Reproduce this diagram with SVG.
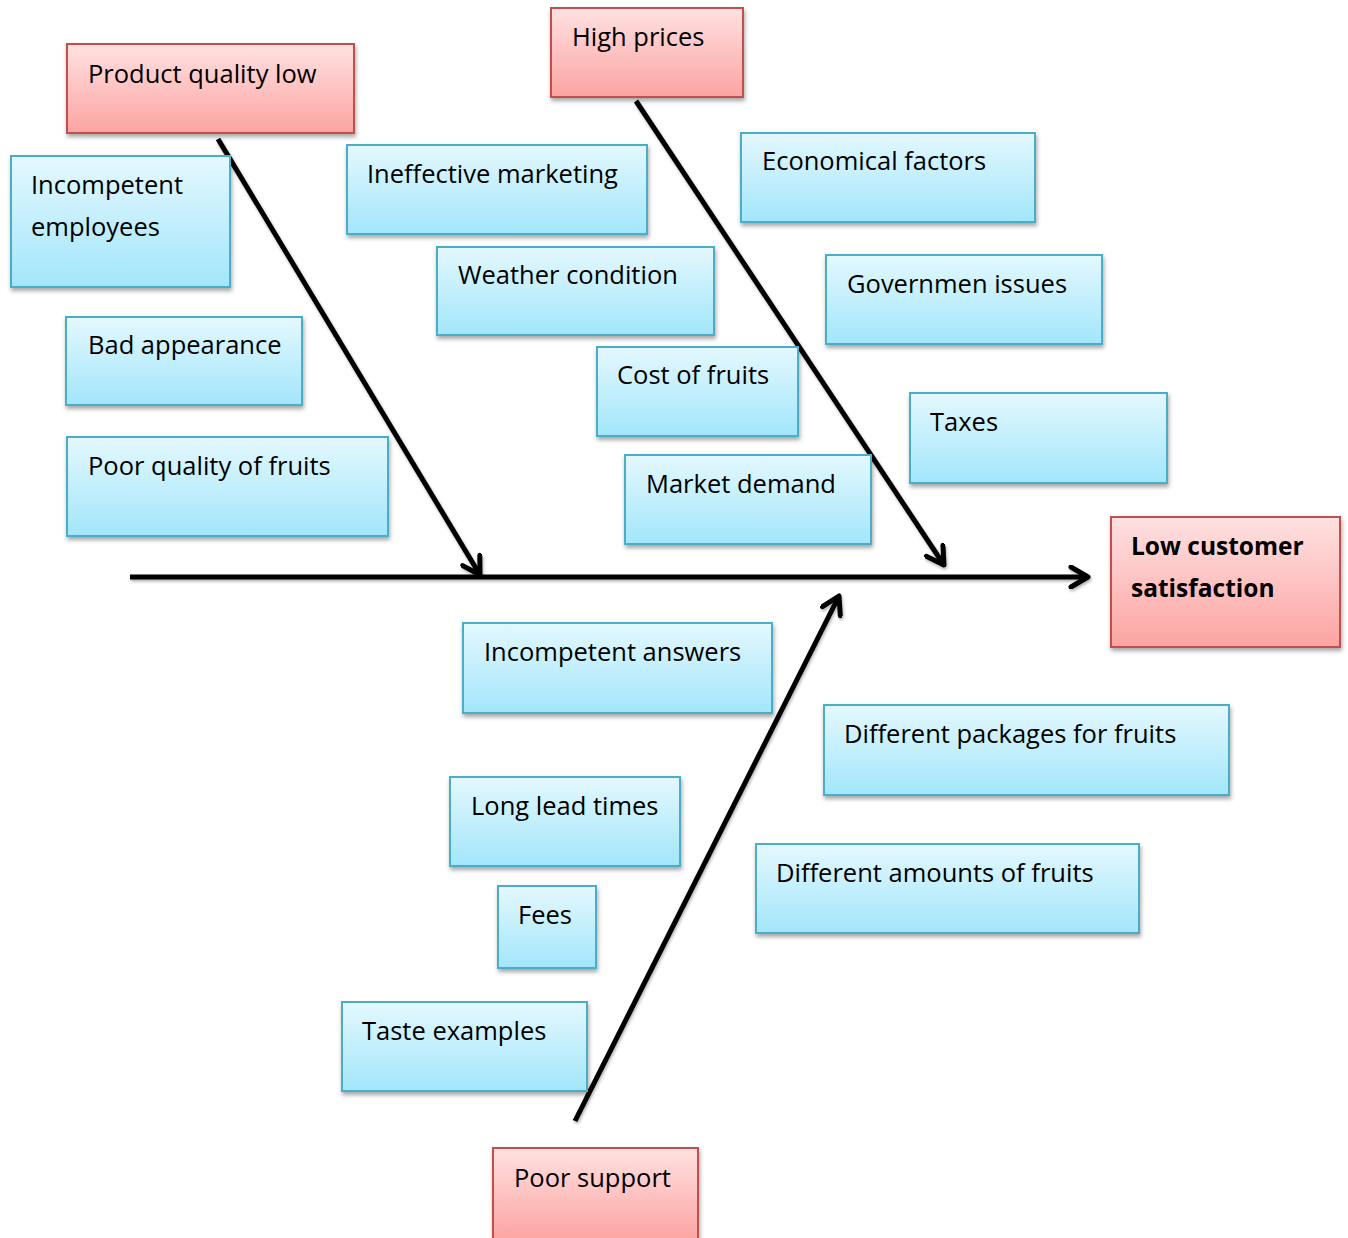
<svg xmlns="http://www.w3.org/2000/svg" width="1348" height="1238" viewBox="0 0 1348 1238">
<style>
.b{fill:url(#gb);stroke:#4cadc8;stroke-width:2;filter:url(#sh)}
.r{fill:url(#gr);stroke:#c0504d;stroke-width:2;filter:url(#sh)}
text{font-family:"Open Sans","Noto Sans","Liberation Sans",sans-serif;font-size:25.5px;fill:#000}
.bold{font-weight:bold;font-size:24.5px}
.c{stroke:#000;stroke-width:5;fill:none}
</style>
<defs>
<linearGradient id="gb" x1="0" y1="0" x2="0" y2="1">
<stop offset="0" stop-color="#e4f8fe"/><stop offset="1" stop-color="#a2e6fb"/>
</linearGradient>
<linearGradient id="gr" x1="0" y1="0" x2="0" y2="1">
<stop offset="0" stop-color="#ffe1e1"/><stop offset="1" stop-color="#fca4a2"/>
</linearGradient>
<filter id="sh" x="-10%" y="-10%" width="130%" height="140%">
<feDropShadow dx="1" dy="3" stdDeviation="2" flood-color="#000" flood-opacity="0.35"/>
</filter>
<filter id="ls" filterUnits="userSpaceOnUse" x="0" y="0" width="1348" height="1238">
<feDropShadow dx="1" dy="2" stdDeviation="1.5" flood-color="#000" flood-opacity="0.3"/>
</filter>
<marker id="ah" viewBox="0 0 24 24" refX="20" refY="12" markerWidth="24" markerHeight="24" markerUnits="userSpaceOnUse" orient="auto">
<path d="M3,2 L20,12 L3,22" fill="none" stroke="#000" stroke-width="5" stroke-linecap="round" stroke-linejoin="round"/>
</marker>
</defs>
<rect width="1348" height="1238" fill="#fff"/>
<g id="connectors" filter="url(#ls)">
<line class="c" x1="130" y1="577" x2="1088" y2="577" marker-end="url(#ah)"/>
<line class="c" x1="218" y1="139" x2="480" y2="575" marker-end="url(#ah)"/>
<line class="c" x1="636" y1="101" x2="944" y2="565" marker-end="url(#ah)"/>
<line class="c" x1="575" y1="1121" x2="839" y2="596" marker-end="url(#ah)"/>
</g>
<g id="product-quality-low"><rect class="r" x="67" y="44" width="287" height="89"/><text x="88" y="83">Product quality low</text></g>
<g id="high-prices"><rect class="r" x="551" y="8" width="192" height="89"/><text x="572" y="46">High prices</text></g>
<g id="low-customer-satisfaction"><rect class="r" x="1111" y="517" width="229" height="130"/><text class="bold" x="1131" y="555">Low customer</text><text class="bold" x="1131" y="597">satisfaction</text></g>
<g id="poor-support"><rect class="r" x="493" y="1148" width="205" height="92"/><text x="514" y="1187">Poor support</text></g>
<g id="incompetent-employees"><rect class="b" x="11" y="156" width="219" height="131"/><text x="31" y="194">Incompetent</text><text x="31" y="236">employees</text></g>
<g id="ineffective-marketing"><rect class="b" x="347" y="145" width="300" height="89"/><text x="367" y="183">Ineffective marketing</text></g>
<g id="economical-factors"><rect class="b" x="741" y="133" width="294" height="89"/><text x="762" y="170">Economical factors</text></g>
<g id="weather-condition"><rect class="b" x="437" y="247" width="277" height="88"/><text x="458" y="284">Weather condition</text></g>
<g id="governmen-issues"><rect class="b" x="826" y="255" width="276" height="89"/><text x="847" y="293">Governmen issues</text></g>
<g id="bad-appearance"><rect class="b" x="66" y="317" width="236" height="88"/><text x="88" y="354">Bad appearance</text></g>
<g id="cost-of-fruits"><rect class="b" x="597" y="347" width="201" height="89"/><text x="617" y="384">Cost of fruits</text></g>
<g id="taxes"><rect class="b" x="910" y="393" width="257" height="90"/><text x="930" y="431">Taxes</text></g>
<g id="poor-quality-of-fruits"><rect class="b" x="67" y="437" width="321" height="99"/><text x="88" y="475">Poor quality of fruits</text></g>
<g id="market-demand"><rect class="b" x="625" y="455" width="246" height="89"/><text x="646" y="493">Market demand</text></g>
<g id="incompetent-answers"><rect class="b" x="463" y="623" width="309" height="90"/><text x="484" y="661">Incompetent answers</text></g>
<g id="different-packages"><rect class="b" x="824" y="705" width="405" height="90"/><text x="844" y="743">Different packages for fruits</text></g>
<g id="long-lead-times"><rect class="b" x="450" y="777" width="230" height="89"/><text x="471" y="815">Long lead times</text></g>
<g id="different-amounts"><rect class="b" x="756" y="844" width="383" height="89"/><text x="776" y="882">Different amounts of fruits</text></g>
<g id="fees"><rect class="b" x="498" y="886" width="98" height="82"/><text x="518" y="924">Fees</text></g>
<g id="taste-examples"><rect class="b" x="342" y="1002" width="245" height="89"/><text x="362" y="1040">Taste examples</text></g>
</svg>
